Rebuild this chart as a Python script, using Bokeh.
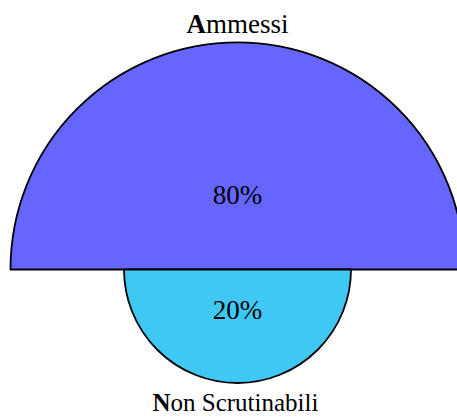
import math
from bokeh.plotting import figure
from bokeh.models import Range1d
from bokeh.core.properties import value
from bokeh.embed import file_html
from bokeh.resources import INLINE

# ---- data ----
categories = ["Ammessi", "Non Scrutinabili"]
percentages = [80, 20]
colors = ["#6666FF", "#40C8F4"]

# ---- layout (pixels) ----
W, H = 457, 419
CX, CY = 237, 150          # centre of the two half discs (data = pixel units)
RMAX = 227                 # radius of the largest half disc
FONT = "Liberation Serif"
FS = "27px"

p = figure(width=W, height=H, output_backend="svg", toolbar_location=None,
           x_range=Range1d(0, W), y_range=Range1d(0, H),
           min_border=0, outline_line_color=None)
p.axis.visible = False
p.grid.visible = False
p.background_fill_color = "white"
p.border_fill_color = "white"

vmax = max(percentages)
radii = [RMAX * math.sqrt(v / vmax) for v in percentages]

# upper half disc for first category, lower half for second
p.wedge(x=CX, y=CY, radius=radii[0], start_angle=0, end_angle=math.pi,
        fill_color=colors[0], line_color="black", line_width=1.8, line_join="round")
p.wedge(x=CX, y=CY, radius=radii[1], start_angle=math.pi, end_angle=2 * math.pi,
        fill_color=colors[1], line_color="black", line_width=1.8, line_join="round")

# percentages inside
p.text(x=[CX], y=[CY + radii[0] * 0.33], text=[f"{percentages[0]}%"],
       text_align="center", text_baseline="middle",
       text_font=value(FONT), text_font_size=FS, text_color="black")
p.text(x=[CX], y=[CY - radii[1] * 0.36], text=[f"{percentages[1]}%"],
       text_align="center", text_baseline="middle",
       text_font=value(FONT), text_font_size=FS, text_color="black")

# category labels with bold initial
def label(name, y, total_w, first_w, fs):
    x0 = CX - total_w / 2
    split = x0 + first_w
    p.text(x=[split], y=[y], text=[name[0]], text_align="right", text_baseline="top",
           text_font=value(FONT), text_font_size=fs, text_font_style="bold",
           text_color="black")
    p.text(x=[split], y=[y], text=[name[1:]], text_align="left", text_baseline="top",
           text_font=value(FONT), text_font_size=fs, text_color="black")

label(categories[0], CY + radii[0] + 34, 103, 20, FS)
label(categories[1], CY - radii[1] - 5.5, 172, 19, "25px")

open("out.html", "w").write(file_html(p, INLINE))
